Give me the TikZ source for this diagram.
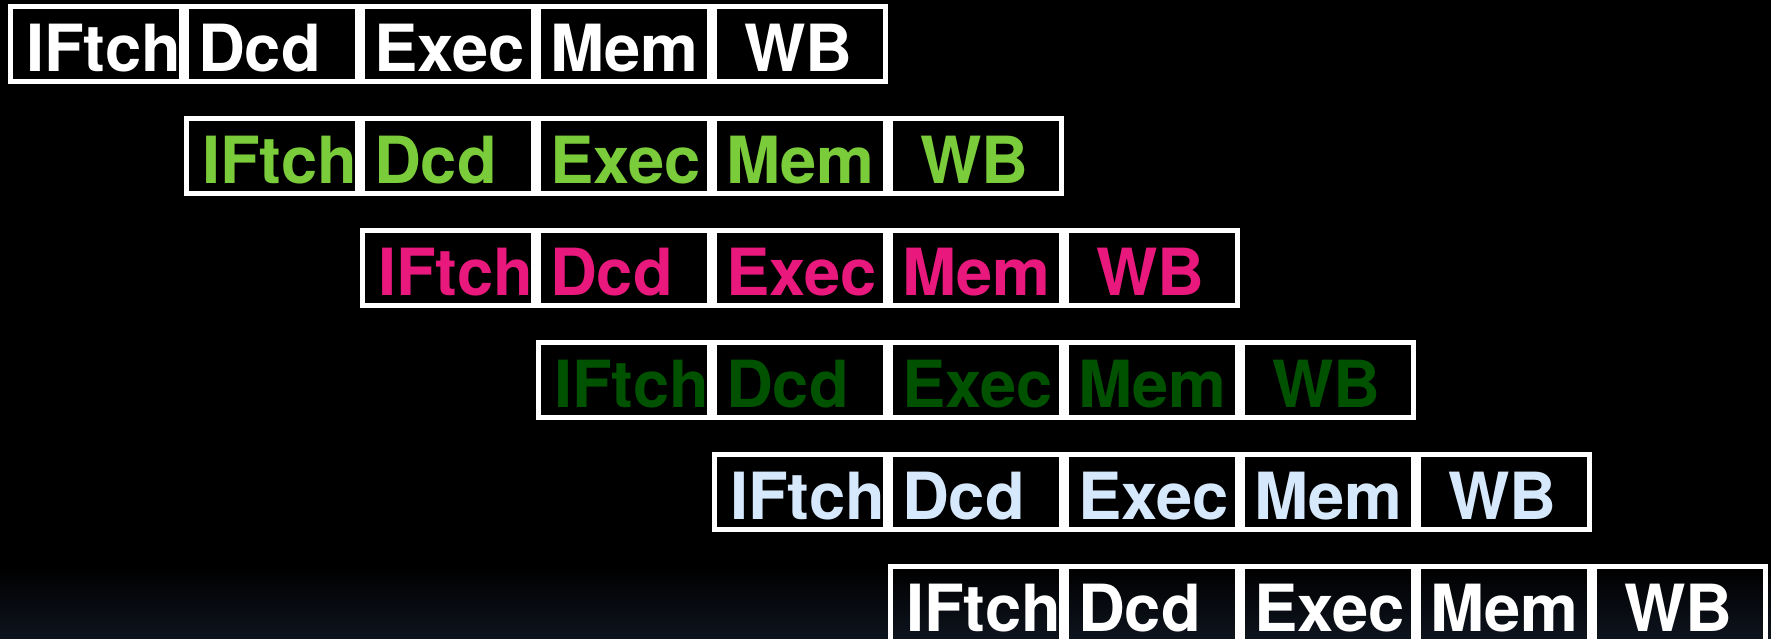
\documentclass[tikz,border=0pt]{standalone}
\usepackage{fontspec}
\setmainfont{TeX Gyre Heros}
\usetikzlibrary{positioning}

\definecolor{stagegreen}{RGB}{122,204,58}
\definecolor{stagepink}{RGB}{232,24,125}
\definecolor{stagedark}{RGB}{0,82,0}
\definecolor{stageblue}{RGB}{214,233,252}
\definecolor{floor}{RGB}{14,20,30}

% label inside a stage box, pushed right by #1
\newcommand{\stagetext}[2]{\makebox[166pt][l]{\hspace*{#1}#2}}

\begin{document}
\begin{tikzpicture}[x=1pt,y=1pt,node distance=0pt,
                    stage/.style={rectangle,draw=white,line width=5pt,text=#1,
                      minimum width=171pt,minimum height=75pt,inner sep=0pt,
                      text height=55pt,text depth=0pt,
                      font=\fontsize{65}{65}\selectfont\bfseries},
                    stage/.default=white]
  \useasboundingbox (0,0) rectangle (1771,-639);
  \fill[black] (0,0) rectangle (1771,-639);
  \shade[top color=black,bottom color=floor] (0,-568) rectangle (1771,-639);

  % instruction 1
  \node[stage,anchor=north west] (a1) at (8,-4) {\stagetext{13pt}{IFtch}};
  \node[stage] (a2) [right=of a1] {\stagetext{9pt}{Dcd}};
  \node[stage] (a3) [right=of a2] {\stagetext{9pt}{Exec}};
  \node[stage] (a4) [right=of a3] {\stagetext{9pt}{Mem}};
  \node[stage] (a5) [right=of a4] {\stagetext{27pt}{WB}};

  % instruction 2
  \node[stage=stagegreen] (b1) [below=32pt of a2] {\stagetext{13pt}{IFtch}};
  \node[stage=stagegreen] (b2) [right=of b1] {\stagetext{9pt}{Dcd}};
  \node[stage=stagegreen] (b3) [right=of b2] {\stagetext{9pt}{Exec}};
  \node[stage=stagegreen] (b4) [right=of b3] {\stagetext{9pt}{Mem}};
  \node[stage=stagegreen] (b5) [right=of b4] {\stagetext{27pt}{WB}};

  % instruction 3
  \node[stage=stagepink] (c1) [below=32pt of b2] {\stagetext{13pt}{IFtch}};
  \node[stage=stagepink] (c2) [right=of c1] {\stagetext{9pt}{Dcd}};
  \node[stage=stagepink] (c3) [right=of c2] {\stagetext{9pt}{Exec}};
  \node[stage=stagepink] (c4) [right=of c3] {\stagetext{9pt}{Mem}};
  \node[stage=stagepink] (c5) [right=of c4] {\stagetext{27pt}{WB}};

  % instruction 4
  \node[stage=stagedark] (d1) [below=32pt of c2] {\stagetext{13pt}{IFtch}};
  \node[stage=stagedark] (d2) [right=of d1] {\stagetext{9pt}{Dcd}};
  \node[stage=stagedark] (d3) [right=of d2] {\stagetext{9pt}{Exec}};
  \node[stage=stagedark] (d4) [right=of d3] {\stagetext{9pt}{Mem}};
  \node[stage=stagedark] (d5) [right=of d4] {\stagetext{27pt}{WB}};

  % instruction 5
  \node[stage=stageblue] (e1) [below=32pt of d2] {\stagetext{13pt}{IFtch}};
  \node[stage=stageblue] (e2) [right=of e1] {\stagetext{9pt}{Dcd}};
  \node[stage=stageblue] (e3) [right=of e2] {\stagetext{9pt}{Exec}};
  \node[stage=stageblue] (e4) [right=of e3] {\stagetext{9pt}{Mem}};
  \node[stage=stageblue] (e5) [right=of e4] {\stagetext{27pt}{WB}};

  % instruction 6
  \node[stage] (f1) [below=32pt of e2] {\stagetext{13pt}{IFtch}};
  \node[stage] (f2) [right=of f1] {\stagetext{9pt}{Dcd}};
  \node[stage] (f3) [right=of f2] {\stagetext{9pt}{Exec}};
  \node[stage] (f4) [right=of f3] {\stagetext{9pt}{Mem}};
  \node[stage] (f5) [right=of f4] {\stagetext{27pt}{WB}};
\end{tikzpicture}
\end{document}
